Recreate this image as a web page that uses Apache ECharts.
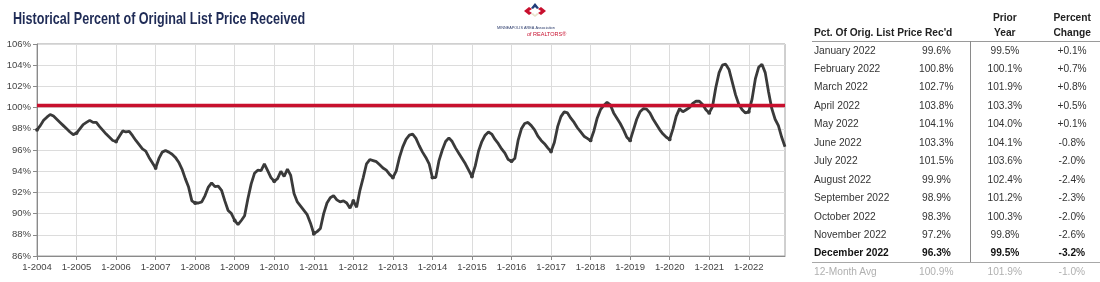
<!DOCTYPE html>
<html>
<head>
<meta charset="utf-8">
<script src="https://cdn.jsdelivr.net/npm/echarts@6/dist/echarts.min.js"></script>
<style>
html,body{margin:0;padding:0;background:#fff;}
#wrap{position:relative;width:1100px;height:282px;overflow:hidden;}
#chart{position:absolute;left:0;top:0;width:1100px;height:282px;}
.cell{position:absolute;white-space:nowrap;font-family:"Liberation Sans",Arial,sans-serif;font-size:10.2px;color:#333;line-height:12px;}
.hd{font-weight:bold;color:#222;}
.ln{position:absolute;background:#9a9a9a;}
</style>
</head>
<body>
<div id="wrap">
<div id="chart"></div>
</div>
<script>
// ---------- DATA ----------
const years = [2004,2005,2006,2007,2008,2009,2010,2011,2012,2013,2014,2015,2016,2017,2018,2019,2020,2021,2022];
const pctReceived = [
  97.9, 98.3, 98.8, 99.1, 99.35, 99.2, 98.9, 98.6, 98.3, 98.0, 97.7, 97.45,
  97.6, 98.0, 98.4, 98.6, 98.8, 98.6, 98.6, 98.2, 97.85, 97.5, 97.2, 96.9,
  96.8, 97.3, 97.8, 97.7, 97.75, 97.35, 96.9, 96.5, 96.1, 95.9, 95.3, 94.8,
  94.3, 95.2, 95.8, 95.95, 95.8, 95.6, 95.3, 94.85, 94.2, 93.3, 92.5, 91.2,
  91.0, 91.0, 91.1, 91.7, 92.5, 92.9, 92.55, 92.6, 92.2, 91.2, 90.3, 90.0,
  89.35, 88.95, 89.35, 89.8, 91.4, 92.8, 93.8, 94.1, 94.05, 94.7, 94.05, 93.4,
  93.05, 93.3, 94.0, 93.5, 94.2, 93.6, 91.9, 91.1, 90.7, 90.3, 89.9, 89.1,
  88.1, 88.3, 88.6, 90.0, 91.0, 91.5, 91.7, 91.3, 91.1, 91.2, 91.0, 90.5,
  91.2, 90.6, 92.2, 93.4, 94.7, 95.1, 95.0, 94.9, 94.6, 94.3, 94.1, 93.7,
  93.4, 94.0, 95.3, 96.3, 97.0, 97.4, 97.5, 97.1, 96.4, 95.8, 95.3, 94.7,
  93.4, 93.4, 95.0, 96.0, 96.8, 97.15, 96.8, 96.2, 95.7, 95.2, 94.7, 94.1,
  93.5, 94.5, 95.9, 96.8, 97.4, 97.7, 97.5, 97.0, 96.6, 96.1, 95.7, 95.1,
  94.95, 95.2, 96.9, 98.0, 98.5, 98.6, 98.3, 97.9, 97.3, 96.9, 96.6, 96.2,
  95.85, 96.7, 98.2, 99.15, 99.6, 99.5, 99.0, 98.6, 98.1, 97.7, 97.3, 97.1,
  96.9, 97.8, 99.0, 99.8, 100.2, 100.5, 100.25, 99.5, 99.0, 98.5, 97.9, 97.2,
  96.9, 97.9, 98.9, 99.6, 99.9, 99.85, 99.5, 98.9, 98.4, 97.9, 97.5, 97.2,
  97.0, 98.0, 99.2, 99.9, 99.6, 99.8, 100.0, 100.4, 100.6, 100.6, 100.3, 99.8,
  99.5, 100.1, 101.9, 103.3, 104.0, 104.1, 103.6, 102.4, 101.2, 100.3, 99.8, 99.5,
  99.6, 100.8, 102.7, 103.8, 104.1, 103.3, 101.5, 99.9, 98.9, 98.3, 97.2, 96.3
];
const referenceLevel = 100.2;
const yMin = 86, yMax = 106, yStep = 2;

const tableMonths  = ["January 2022","February 2022","March 2022","April 2022","May 2022","June 2022","July 2022","August 2022","September 2022","October 2022","November 2022","December 2022"];
const tableCurrent = ["99.6%","100.8%","102.7%","103.8%","104.1%","103.3%","101.5%","99.9%","98.9%","98.3%","97.2%","96.3%"];
const tablePrior   = ["99.5%","100.1%","101.9%","103.3%","104.0%","104.1%","103.6%","102.4%","101.2%","100.3%","99.8%","99.5%"];
const tableChange  = ["+0.1%","+0.7%","+0.8%","+0.5%","+0.1%","-0.8%","-2.0%","-2.4%","-2.3%","-2.0%","-2.6%","-3.2%"];
const avgRow = ["12-Month Avg","100.9%","101.9%","-1.0%"];

// ---------- CATEGORIES ----------
const categories = [];
years.forEach(y => { for (let m = 1; m <= 12; m++) categories.push(m + '-' + y); });

// ---------- CHART ----------
const chart = echarts.init(document.getElementById('chart'), null, {renderer:'canvas'});
const axisFont = '"Liberation Sans Narrow","Liberation Sans",Arial,sans-serif';
chart.setOption({
  animation:false,
  grid:{left:37,right:315,top:44,bottom:26,show:true,borderColor:'#a0a0a0',borderWidth:1},
  xAxis:{
    type:'category', data:categories, boundaryGap:false,
    axisLine:{lineStyle:{color:'#8a8a8a',width:1}},
    axisTick:{show:true,interval:11,length:4,lineStyle:{color:'#8a8a8a'}},
    axisLabel:{interval:11,color:'#444',fontFamily:axisFont,fontSize:9.5,margin:6},
    splitLine:{show:true,interval:11,lineStyle:{color:'#dcdcdc',width:1}}
  },
  yAxis:{
    type:'value', min:yMin, max:yMax, interval:yStep,
    axisLine:{show:true,lineStyle:{color:'#8a8a8a',width:1}},
    axisTick:{show:true,length:4,lineStyle:{color:'#8a8a8a'}},
    axisLabel:{formatter:'{value}%',color:'#444',fontFamily:axisFont,fontSize:9.5,margin:6},
    splitLine:{show:true,lineStyle:{color:'#dcdcdc',width:1}}
  },
  series:[{
    type:'line', data:pctReceived, smooth:false,
    symbol:'circle', symbolSize:3.8, showSymbol:true,
    lineStyle:{color:'#3a3a3a',width:2.8},
    itemStyle:{color:'#3a3a3a'},
    markLine:{
      silent:true, symbol:['none','none'], label:{show:false},
      lineStyle:{color:'#c8102e',width:3.4,type:'solid'},
      data:[{yAxis:referenceLevel}]
    }
  }],
  graphic:[
    {type:'text', x:13, y:11, scaleX:0.74, style:{text:'Historical Percent of Original List Price Received', fill:'#1f2b56', font:'bold 17px "Liberation Sans",Arial,sans-serif'}},
    // logo icon
    {type:'polygon', shape:{points:[[531,8],[535,3],[539,8],[537,9],[535,7],[533,9]]}, style:{fill:'#1f3c7a'}},
    {type:'polygon', shape:{points:[[524,11],[529,7],[532,9],[529,11],[532,13],[529,15]]}, style:{fill:'#c8102e'}},
    {type:'polygon', shape:{points:[[546,11],[541,7],[538,9],[541,11],[538,13],[541,15]]}, style:{fill:'#c8102e'}},
    {type:'polygon', shape:{points:[[531,14],[535,17],[539,14],[537,13],[535,15],[533,13]]}, style:{fill:'#e8e2cc'}},
    {type:'text', x:497, y:26, style:{text:'MINNEAPOLIS AREA Association', fill:'#2a3a6a', font:'3.8px "Liberation Sans",Arial,sans-serif'}},
    {type:'text', x:527, y:31, style:{text:'of REALTORS®', fill:'#c8102e', font:'5.5px "Liberation Sans",Arial,sans-serif'}}
  ]
});

// ---------- TABLE ----------
const wrap = document.getElementById('wrap');
function cell(text, x, yc, align, cls, color, bold){
  const d = document.createElement('div');
  d.className = 'cell' + (cls ? ' ' + cls : '');
  d.textContent = text;
  d.style.top = (yc - 6) + 'px';
  if (color) d.style.color = color;
  if (bold) d.style.fontWeight = 'bold';
  wrap.appendChild(d);
  const w = d.offsetWidth;
  if (align === 'left') d.style.left = x + 'px';
  else if (align === 'center') d.style.left = (x - w/2) + 'px';
  else d.style.left = (x - w) + 'px';
}
function line(x, y, w, h, color){
  const d = document.createElement('div');
  d.className = 'ln';
  d.style.left = x + 'px'; d.style.top = y + 'px';
  d.style.width = w + 'px'; d.style.height = h + 'px';
  if (color) d.style.background = color;
  wrap.appendChild(d);
}
const colName = 814, colCur = 936.5, colPrior = 1005, colChg = 1072;
cell("Pct. Of Orig. List Price Rec'd", colName, 33, 'left', 'hd');
cell('Prior', colPrior, 18, 'center', 'hd');
cell('Year', colPrior, 33, 'center', 'hd');
cell('Percent', colChg, 18, 'center', 'hd');
cell('Change', colChg, 33, 'center', 'hd');
line(812, 41, 288, 1, '#9a9a9a');
line(970, 41, 1, 221, '#8a8a8a');
const rowY0 = 50.5, rowStep = 18.45;
tableMonths.forEach((m, i) => {
  const y = rowY0 + i * rowStep;
  const last = i === tableMonths.length - 1;
  const col = last ? '#111' : '#333';
  cell(m, colName, y, 'left', '', col, last);
  cell(tableCurrent[i], colCur, y, 'center', '', col, last);
  cell(tablePrior[i], colPrior, y, 'center', '', col, last);
  cell(tableChange[i], colChg, y, 'center', '', col, last);
});
line(812, 262, 288, 1, '#a8a8a8');
const avgY = rowY0 + 12 * rowStep;
cell(avgRow[0], colName, avgY, 'left', '', '#b0b0b0');
cell(avgRow[1], colCur, avgY, 'center', '', '#b0b0b0');
cell(avgRow[2], colPrior, avgY, 'center', '', '#b0b0b0');
cell(avgRow[3], colChg, avgY, 'center', '', '#b0b0b0');
</script>
</body>
</html>
